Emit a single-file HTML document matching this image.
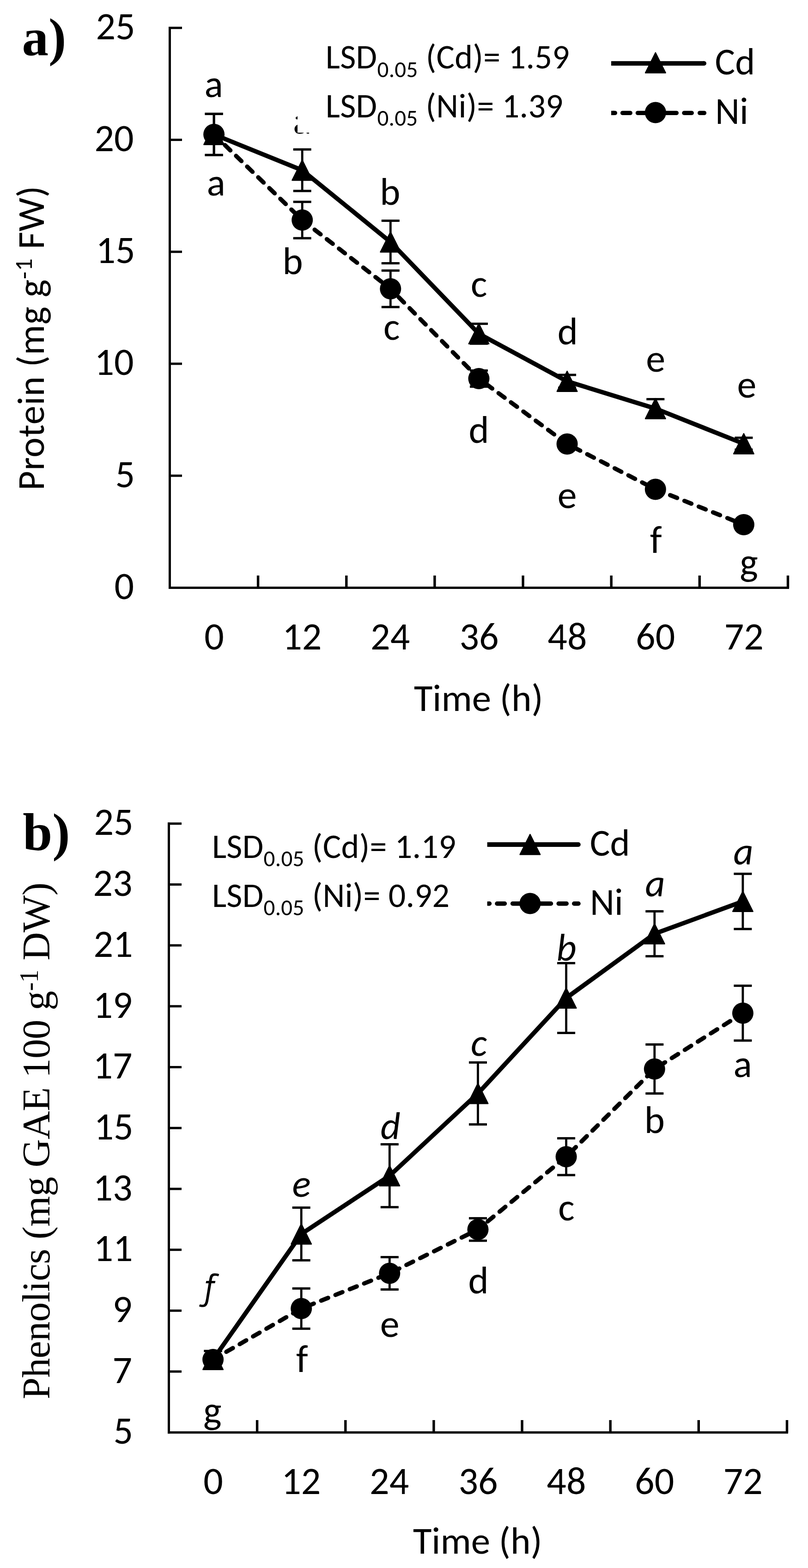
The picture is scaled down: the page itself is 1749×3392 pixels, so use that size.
<!DOCTYPE html><html><head><meta charset="utf-8"><title>Protein and phenolics</title><style>html,body{margin:0;padding:0;background:#fff}svg{display:block}</style></head><body><svg width="1749" height="3392" viewBox="0 0 1749 3392"><rect width="1749" height="3392" fill="#fff"/><g fill="#000"><rect x="365" y="58" width="5" height="1216"/><rect x="365" y="1269" width="1343" height="5"/><rect x="365" y="57.8" width="29" height="5"/><rect x="365" y="300.0" width="29" height="5"/><rect x="365" y="542.2" width="29" height="5"/><rect x="365" y="784.4" width="29" height="5"/><rect x="365" y="1026.6" width="29" height="5"/><rect x="555.9" y="1245" width="5.4" height="27"/><rect x="747.1" y="1245" width="5.4" height="27"/><rect x="938.2" y="1245" width="5.4" height="27"/><rect x="1129.4" y="1245" width="5.4" height="27"/><rect x="1320.5" y="1245" width="5.4" height="27"/><rect x="1511.6" y="1245" width="5.4" height="27"/><rect x="1702.8" y="1245" width="5.4" height="27"/></g><g fill="#000"><rect x="363" y="1779.2" width="5" height="1322"/><rect x="363" y="3096.3" width="1343" height="5"/><rect x="363" y="1779.2" width="30" height="5"/><rect x="363" y="1910.9" width="30" height="5"/><rect x="363" y="2042.6" width="30" height="5"/><rect x="363" y="2174.3" width="30" height="5"/><rect x="363" y="2306.0" width="30" height="5"/><rect x="363" y="2437.7" width="30" height="5"/><rect x="363" y="2569.4" width="30" height="5"/><rect x="363" y="2701.1" width="30" height="5"/><rect x="363" y="2832.8" width="30" height="5"/><rect x="363" y="2964.5" width="30" height="5"/><rect x="553.9" y="3072" width="5.4" height="27"/><rect x="745.1" y="3072" width="5.4" height="27"/><rect x="936.2" y="3072" width="5.4" height="27"/><rect x="1127.4" y="3072" width="5.4" height="27"/><rect x="1318.5" y="3072" width="5.4" height="27"/><rect x="1509.6" y="3072" width="5.4" height="27"/><rect x="1700.8" y="3072" width="5.4" height="27"/></g><g fill="#000"><path d="M463.1 290.8L654.2 476.0L845.3 624.8L1036.5 819.0L1227.6 960.4L1418.8 1058.4L1609.9 1135.0" fill="none" stroke="#000" stroke-width="9.3" stroke-linecap="round" stroke-linejoin="round" stroke-dasharray="16.2 17.16"/><path d="M463.1 290.9L654.2 368.2L845.3 523.5L1036.5 721.9L1227.6 824.9L1418.8 883.9L1609.9 959.9" fill="none" stroke="#000" stroke-width="9.6" stroke-linejoin="round"/><rect x="460.7" y="246.3" width="4.8" height="89.0"/><rect x="443.6" y="243.8" width="39" height="5"/><rect x="443.6" y="332.8" width="39" height="5"/><rect x="651.8" y="436.7" width="4.8" height="78.6"/><rect x="634.7" y="434.2" width="39" height="5"/><rect x="634.7" y="512.8" width="39" height="5"/><rect x="842.9" y="585.3" width="4.8" height="78.9"/><rect x="825.8" y="582.8" width="39" height="5"/><rect x="825.8" y="661.7" width="39" height="5"/><rect x="1034.1" y="801.6" width="4.8" height="34.8"/><rect x="1017.0" y="799.1" width="39" height="5"/><rect x="1017.0" y="833.9" width="39" height="5"/><rect x="1225.2" y="952.4" width="4.8" height="16.0"/><rect x="1208.1" y="949.9" width="39" height="5"/><rect x="1208.1" y="965.9" width="39" height="5"/><rect x="1416.4" y="1050.4" width="4.8" height="16.0"/><rect x="1399.3" y="1047.9" width="39" height="5"/><rect x="1399.3" y="1063.9" width="39" height="5"/><rect x="1607.5" y="1127.0" width="4.8" height="16.0"/><rect x="1590.4" y="1124.5" width="39" height="5"/><rect x="1590.4" y="1140.5" width="39" height="5"/><rect x="460.7" y="246.4" width="4.8" height="89.0"/><rect x="443.6" y="243.9" width="39" height="5"/><rect x="443.6" y="332.9" width="39" height="5"/><rect x="651.8" y="323.3" width="4.8" height="89.7"/><rect x="634.7" y="320.8" width="39" height="5"/><rect x="634.7" y="410.6" width="39" height="5"/><rect x="842.9" y="477.5" width="4.8" height="92.0"/><rect x="825.8" y="475.0" width="39" height="5"/><rect x="825.8" y="567.0" width="39" height="5"/><rect x="1034.1" y="700.4" width="4.8" height="43.0"/><rect x="1017.0" y="697.9" width="39" height="5"/><rect x="1017.0" y="740.9" width="39" height="5"/><rect x="1225.2" y="811.0" width="4.8" height="27.8"/><rect x="1208.1" y="808.5" width="39" height="5"/><rect x="1208.1" y="836.3" width="39" height="5"/><rect x="1416.4" y="863.5" width="4.8" height="40.8"/><rect x="1399.3" y="861.0" width="39" height="5"/><rect x="1399.3" y="901.8" width="39" height="5"/><rect x="1607.5" y="947.0" width="4.8" height="25.8"/><rect x="1590.4" y="944.5" width="39" height="5"/><rect x="1590.4" y="970.3" width="39" height="5"/><path d="M441.3 312.7L484.9 312.7L463.1 269.1Z" stroke="#000" stroke-width="2.4" stroke-linejoin="round"/><path d="M632.4 390.0L676.0 390.0L654.2 346.4Z" stroke="#000" stroke-width="2.4" stroke-linejoin="round"/><path d="M823.5 545.3L867.1 545.3L845.3 501.7Z" stroke="#000" stroke-width="2.4" stroke-linejoin="round"/><path d="M1014.7 743.7L1058.3 743.7L1036.5 700.1Z" stroke="#000" stroke-width="2.4" stroke-linejoin="round"/><path d="M1205.8 846.7L1249.4 846.7L1227.6 803.1Z" stroke="#000" stroke-width="2.4" stroke-linejoin="round"/><path d="M1397.0 905.7L1440.6 905.7L1418.8 862.1Z" stroke="#000" stroke-width="2.4" stroke-linejoin="round"/><path d="M1588.1 981.7L1631.7 981.7L1609.9 938.1Z" stroke="#000" stroke-width="2.4" stroke-linejoin="round"/><circle cx="463.1" cy="290.8" r="23"/><circle cx="654.2" cy="476.0" r="23"/><circle cx="845.3" cy="624.8" r="23"/><circle cx="1036.5" cy="819.0" r="23"/><circle cx="1227.6" cy="960.4" r="23"/><circle cx="1418.8" cy="1058.4" r="23"/><circle cx="1609.9" cy="1135.0" r="23"/></g><g fill="#000"><path d="M461.1 2941.0L652.2 2830.8L843.3 2754.5L1034.5 2659.7L1225.6 2502.2L1416.8 2312.5L1607.9 2191.7" fill="none" stroke="#000" stroke-width="9.3" stroke-linecap="round" stroke-linejoin="round" stroke-dasharray="16.2 17.16"/><path d="M461.1 2941.0L652.2 2669.4L843.3 2543.4L1034.5 2365.4L1225.6 2159.0L1416.8 2020.0L1607.9 1950.0" fill="none" stroke="#000" stroke-width="9.6" stroke-linejoin="round"/><rect x="458.7" y="2922.5" width="4.8" height="37.0"/><rect x="441.6" y="2920.0" width="39" height="5"/><rect x="441.6" y="2957.0" width="39" height="5"/><rect x="649.8" y="2787.3" width="4.8" height="87.0"/><rect x="632.7" y="2784.8" width="39" height="5"/><rect x="632.7" y="2871.8" width="39" height="5"/><rect x="840.9" y="2719.5" width="4.8" height="70.0"/><rect x="823.8" y="2717.0" width="39" height="5"/><rect x="823.8" y="2787.0" width="39" height="5"/><rect x="1032.1" y="2635.4" width="4.8" height="48.6"/><rect x="1015.0" y="2632.9" width="39" height="5"/><rect x="1015.0" y="2681.5" width="39" height="5"/><rect x="1223.2" y="2462.4" width="4.8" height="79.6"/><rect x="1206.1" y="2459.9" width="39" height="5"/><rect x="1206.1" y="2539.5" width="39" height="5"/><rect x="1414.4" y="2259.5" width="4.8" height="106.0"/><rect x="1397.3" y="2257.0" width="39" height="5"/><rect x="1397.3" y="2363.0" width="39" height="5"/><rect x="1605.5" y="2132.4" width="4.8" height="118.6"/><rect x="1588.4" y="2129.9" width="39" height="5"/><rect x="1588.4" y="2248.5" width="39" height="5"/><rect x="458.7" y="2922.5" width="4.8" height="37.0"/><rect x="441.6" y="2920.0" width="39" height="5"/><rect x="441.6" y="2957.0" width="39" height="5"/><rect x="649.8" y="2612.4" width="4.8" height="114.0"/><rect x="632.7" y="2609.9" width="39" height="5"/><rect x="632.7" y="2723.9" width="39" height="5"/><rect x="840.9" y="2475.4" width="4.8" height="136.0"/><rect x="823.8" y="2472.9" width="39" height="5"/><rect x="823.8" y="2608.9" width="39" height="5"/><rect x="1032.1" y="2298.4" width="4.8" height="134.0"/><rect x="1015.0" y="2295.9" width="39" height="5"/><rect x="1015.0" y="2429.9" width="39" height="5"/><rect x="1223.2" y="2083.5" width="4.8" height="151.0"/><rect x="1206.1" y="2081.0" width="39" height="5"/><rect x="1206.1" y="2232.0" width="39" height="5"/><rect x="1414.4" y="1971.4" width="4.8" height="97.2"/><rect x="1397.3" y="1968.9" width="39" height="5"/><rect x="1397.3" y="2066.1" width="39" height="5"/><rect x="1605.5" y="1890.3" width="4.8" height="119.4"/><rect x="1588.4" y="1887.8" width="39" height="5"/><rect x="1588.4" y="2007.2" width="39" height="5"/><path d="M439.3 2962.8L482.9 2962.8L461.1 2919.2Z" stroke="#000" stroke-width="2.4" stroke-linejoin="round"/><path d="M630.4 2691.2L674.0 2691.2L652.2 2647.6Z" stroke="#000" stroke-width="2.4" stroke-linejoin="round"/><path d="M821.5 2565.2L865.1 2565.2L843.3 2521.6Z" stroke="#000" stroke-width="2.4" stroke-linejoin="round"/><path d="M1012.7 2387.2L1056.3 2387.2L1034.5 2343.6Z" stroke="#000" stroke-width="2.4" stroke-linejoin="round"/><path d="M1203.8 2180.8L1247.4 2180.8L1225.6 2137.2Z" stroke="#000" stroke-width="2.4" stroke-linejoin="round"/><path d="M1395.0 2041.8L1438.6 2041.8L1416.8 1998.2Z" stroke="#000" stroke-width="2.4" stroke-linejoin="round"/><path d="M1586.1 1971.8L1629.7 1971.8L1607.9 1928.2Z" stroke="#000" stroke-width="2.4" stroke-linejoin="round"/><circle cx="461.1" cy="2941.0" r="23"/><circle cx="652.2" cy="2830.8" r="23"/><circle cx="843.3" cy="2754.5" r="23"/><circle cx="1034.5" cy="2659.7" r="23"/><circle cx="1225.6" cy="2502.2" r="23"/><circle cx="1416.8" cy="2312.5" r="23"/><circle cx="1607.9" cy="2191.7" r="23"/></g><g fill="#000"><path d="M1323 137.1H1524.1" stroke="#000" stroke-width="9.8"/><circle cx="1524.1" cy="137.1" r="4.9"/><path d="M1397.1 157.6L1440.7 157.6L1418.9 114.0Z" stroke="#000" stroke-width="2.4" stroke-linejoin="round"/><rect x="1323" y="239.70000000000002" width="13" height="9.4" rx="4.7"/><rect x="1323" y="239.70000000000002" width="6.5" height="9.4"/><rect x="1342.9" y="239.70000000000002" width="26.0" height="9.4" rx="4.7"/><rect x="1375.8" y="239.70000000000002" width="34.200000000000045" height="9.4" rx="4.7"/><rect x="1430" y="239.70000000000002" width="39" height="9.4" rx="4.7"/><rect x="1476.3" y="239.70000000000002" width="25.600000000000136" height="9.4" rx="4.7"/><rect x="1510" y="239.70000000000002" width="19.09999999999991" height="9.4" rx="4.7"/><circle cx="1418.9" cy="243.4" r="23"/><text x="1547.5" y="160.8" font-family="Carlito, 'Liberation Sans', sans-serif" font-size="82">Cd</text><text x="1548" y="267.8" font-family="Carlito, 'Liberation Sans', sans-serif" font-size="82">Ni</text></g><g fill="#000"><path d="M1054.7 1827H1251.8999999999999" stroke="#000" stroke-width="9.8"/><circle cx="1251.8999999999999" cy="1827" r="4.9"/><path d="M1125.6 1848.6L1169.2 1848.6L1147.4 1805.0Z" stroke="#000" stroke-width="2.4" stroke-linejoin="round"/><rect x="1054.7" y="1950.1" width="9.5" height="9.4" rx="4.7"/><rect x="1054.7" y="1950.1" width="4.8" height="9.4"/><rect x="1071.2" y="1950.1" width="26.0" height="9.4" rx="4.7"/><rect x="1104.9" y="1950.1" width="35.09999999999991" height="9.4" rx="4.7"/><rect x="1155" y="1950.1" width="42.299999999999955" height="9.4" rx="4.7"/><rect x="1204.5" y="1950.1" width="26.5" height="9.4" rx="4.7"/><rect x="1238" y="1950.1" width="18.799999999999955" height="9.4" rx="4.7"/><circle cx="1147.4" cy="1954.5" r="23"/><text x="1276.7" y="1850.8" font-family="Carlito, 'Liberation Sans', sans-serif" font-size="82">Cd</text><text x="1277.1" y="1978.9" font-family="Carlito, 'Liberation Sans', sans-serif" font-size="82">Ni</text></g><text x="462.7" y="210.4" text-anchor="middle" font-family="Carlito, 'Liberation Sans', sans-serif" font-size="84">a</text><text x="467.7" y="423.3" text-anchor="middle" font-family="Carlito, 'Liberation Sans', sans-serif" font-size="84">a</text><text x="633.5" y="593.4" text-anchor="middle" font-family="Carlito, 'Liberation Sans', sans-serif" font-size="84">b</text><text x="844.4" y="442.6" text-anchor="middle" font-family="Carlito, 'Liberation Sans', sans-serif" font-size="84">b</text><text x="847.8" y="734.6" text-anchor="middle" font-family="Carlito, 'Liberation Sans', sans-serif" font-size="84">c</text><text x="1036.7" y="641.7" text-anchor="middle" font-family="Carlito, 'Liberation Sans', sans-serif" font-size="84">c</text><text x="1036.5" y="957.9" text-anchor="middle" font-family="Carlito, 'Liberation Sans', sans-serif" font-size="84">d</text><text x="1228.9" y="745.1" text-anchor="middle" font-family="Carlito, 'Liberation Sans', sans-serif" font-size="84">d</text><text x="1227.7" y="1098.8" text-anchor="middle" font-family="Carlito, 'Liberation Sans', sans-serif" font-size="84">e</text><text x="1419.1" y="803.9" text-anchor="middle" font-family="Carlito, 'Liberation Sans', sans-serif" font-size="84">e</text><text x="1419.8" y="1196.0" text-anchor="middle" font-family="Carlito, 'Liberation Sans', sans-serif" font-size="84">f</text><text x="1616.3" y="859.5" text-anchor="middle" font-family="Carlito, 'Liberation Sans', sans-serif" font-size="84">e</text><text x="1620.9" y="1244.0" text-anchor="middle" font-family="Carlito, 'Liberation Sans', sans-serif" font-size="84">g</text><text x="654.1" y="288.8" text-anchor="middle" font-family="Carlito, 'Liberation Sans', sans-serif" font-size="84">a</text><text x="459.8" y="3079.0" text-anchor="middle" font-family="Carlito, 'Liberation Sans', sans-serif" font-size="84">g</text><text x="653.8" y="2968.4" text-anchor="middle" font-family="Carlito, 'Liberation Sans', sans-serif" font-size="84">f</text><text x="843.7" y="2892.3" text-anchor="middle" font-family="Carlito, 'Liberation Sans', sans-serif" font-size="84">e</text><text x="1035.5" y="2797.8" text-anchor="middle" font-family="Carlito, 'Liberation Sans', sans-serif" font-size="84">d</text><text x="1225.9" y="2640.2" text-anchor="middle" font-family="Carlito, 'Liberation Sans', sans-serif" font-size="84">c</text><text x="1416.8" y="2450.5" text-anchor="middle" font-family="Carlito, 'Liberation Sans', sans-serif" font-size="84">b</text><text x="1607.7" y="2330.2" text-anchor="middle" font-family="Carlito, 'Liberation Sans', sans-serif" font-size="84">a</text><text x="451.1" y="2810.8" text-anchor="middle" font-family="'PT Sans', Carlito, 'Liberation Sans', sans-serif" font-size="80" font-style="italic">f</text><text x="652.6" y="2589.4" text-anchor="middle" font-family="Carlito, 'Liberation Sans', sans-serif" font-size="84" font-style="italic">e</text><text x="845.0" y="2463.7" text-anchor="middle" font-family="Carlito, 'Liberation Sans', sans-serif" font-size="84" font-style="italic">d</text><text x="1036.4" y="2284.4" text-anchor="middle" font-family="Carlito, 'Liberation Sans', sans-serif" font-size="84" font-style="italic">c</text><text x="1226.0" y="2078.4" text-anchor="middle" font-family="Carlito, 'Liberation Sans', sans-serif" font-size="84" font-style="italic">b</text><text x="1418.0" y="1939.1" text-anchor="middle" font-family="Carlito, 'Liberation Sans', sans-serif" font-size="84" font-style="italic">a</text><text x="1609.1" y="1870.3" text-anchor="middle" font-family="Carlito, 'Liberation Sans', sans-serif" font-size="84" font-style="italic">a</text><text x="95.5" y="119.3" text-anchor="middle" font-family="'Liberation Serif', serif" font-size="115" font-weight="bold">a)</text><text x="100.4" y="1838.8" text-anchor="middle" font-family="'Liberation Serif', serif" font-size="115" font-weight="bold">b)</text><text x="292.7" y="84.8" text-anchor="end" font-family="Carlito, 'Liberation Sans', sans-serif" font-size="84">25</text><text x="289.7" y="327.0" text-anchor="end" font-family="Carlito, 'Liberation Sans', sans-serif" font-size="84">20</text><text x="292.7" y="569.2" text-anchor="end" font-family="Carlito, 'Liberation Sans', sans-serif" font-size="84">15</text><text x="289.7" y="811.4" text-anchor="end" font-family="Carlito, 'Liberation Sans', sans-serif" font-size="84">10</text><text x="292.1" y="1053.6" text-anchor="end" font-family="Carlito, 'Liberation Sans', sans-serif" font-size="84">5</text><text x="290.1" y="1295.8" text-anchor="end" font-family="Carlito, 'Liberation Sans', sans-serif" font-size="84">0</text><text x="288.7" y="1806.4" text-anchor="end" font-family="Carlito, 'Liberation Sans', sans-serif" font-size="84">25</text><text x="286.7" y="1938.1" text-anchor="end" font-family="Carlito, 'Liberation Sans', sans-serif" font-size="84">23</text><text x="287.7" y="2069.8" text-anchor="end" font-family="Carlito, 'Liberation Sans', sans-serif" font-size="84">21</text><text x="286.7" y="2201.5" text-anchor="end" font-family="Carlito, 'Liberation Sans', sans-serif" font-size="84">19</text><text x="286.7" y="2333.2" text-anchor="end" font-family="Carlito, 'Liberation Sans', sans-serif" font-size="84">17</text><text x="288.7" y="2464.9" text-anchor="end" font-family="Carlito, 'Liberation Sans', sans-serif" font-size="84">15</text><text x="286.7" y="2596.6" text-anchor="end" font-family="Carlito, 'Liberation Sans', sans-serif" font-size="84">13</text><text x="287.7" y="2728.3" text-anchor="end" font-family="Carlito, 'Liberation Sans', sans-serif" font-size="84">11</text><text x="286.1" y="2860.0" text-anchor="end" font-family="Carlito, 'Liberation Sans', sans-serif" font-size="84">9</text><text x="286.1" y="2991.7" text-anchor="end" font-family="Carlito, 'Liberation Sans', sans-serif" font-size="84">7</text><text x="288.1" y="3123.4" text-anchor="end" font-family="Carlito, 'Liberation Sans', sans-serif" font-size="84">5</text><text x="463.6" y="1404.5" text-anchor="middle" font-family="Carlito, 'Liberation Sans', sans-serif" font-size="84">0</text><text x="461.6" y="3231.5" text-anchor="middle" font-family="Carlito, 'Liberation Sans', sans-serif" font-size="84">0</text><text x="653.8" y="1404.5" text-anchor="middle" font-family="Carlito, 'Liberation Sans', sans-serif" font-size="84">12</text><text x="651.8" y="3231.5" text-anchor="middle" font-family="Carlito, 'Liberation Sans', sans-serif" font-size="84">12</text><text x="844.7" y="1404.5" text-anchor="middle" font-family="Carlito, 'Liberation Sans', sans-serif" font-size="84">24</text><text x="842.7" y="3231.5" text-anchor="middle" font-family="Carlito, 'Liberation Sans', sans-serif" font-size="84">24</text><text x="1037.1" y="1404.5" text-anchor="middle" font-family="Carlito, 'Liberation Sans', sans-serif" font-size="84">36</text><text x="1035.1" y="3231.5" text-anchor="middle" font-family="Carlito, 'Liberation Sans', sans-serif" font-size="84">36</text><text x="1227.9" y="1404.5" text-anchor="middle" font-family="Carlito, 'Liberation Sans', sans-serif" font-size="84">48</text><text x="1225.9" y="3231.5" text-anchor="middle" font-family="Carlito, 'Liberation Sans', sans-serif" font-size="84">48</text><text x="1418.7" y="1404.5" text-anchor="middle" font-family="Carlito, 'Liberation Sans', sans-serif" font-size="84">60</text><text x="1416.7" y="3231.5" text-anchor="middle" font-family="Carlito, 'Liberation Sans', sans-serif" font-size="84">60</text><text x="1610.3" y="1404.5" text-anchor="middle" font-family="Carlito, 'Liberation Sans', sans-serif" font-size="84">72</text><text x="1608.3" y="3231.5" text-anchor="middle" font-family="Carlito, 'Liberation Sans', sans-serif" font-size="84">72</text><text x="895.9" y="1537.7" font-family="Carlito, 'Liberation Sans', sans-serif" font-size="83" textLength="279.8">Time (h)</text><text x="893.9" y="3360.8" font-family="Carlito, 'Liberation Sans', sans-serif" font-size="83" textLength="279.8">Time (h)</text><rect x="644" y="60" width="600" height="227" fill="#fff"/><text x="704.8" y="148" font-family="Carlito, 'Liberation Sans', sans-serif" font-size="74" textLength="528">LSD<tspan font-size="49" dy="18.5">0.05</tspan><tspan dy="-18.5"> (Cd)= 1.59</tspan></text><text x="704.8" y="253.8" font-family="Carlito, 'Liberation Sans', sans-serif" font-size="74" textLength="514">LSD<tspan font-size="49" dy="18.5">0.05</tspan><tspan dy="-18.5"> (Ni)= 1.39</tspan></text><text x="458.9" y="1855.7" font-family="Carlito, 'Liberation Sans', sans-serif" font-size="74" textLength="528">LSD<tspan font-size="49" dy="18.5">0.05</tspan><tspan dy="-18.5"> (Cd)= 1.19</tspan></text><text x="458.9" y="1961.6" font-family="Carlito, 'Liberation Sans', sans-serif" font-size="74" textLength="514">LSD<tspan font-size="49" dy="18.5">0.05</tspan><tspan dy="-18.5"> (Ni)= 0.92</tspan></text><text transform="translate(94.9 1061) rotate(-90)" font-family="Carlito, 'Liberation Sans', sans-serif" font-size="82" textLength="659">Protein (mg g<tspan font-size="54" dy="-25.5">-1</tspan><tspan dy="25.5"> FW)</tspan></text><text transform="translate(107 3027) rotate(-90)" font-family="'Liberation Serif', serif" font-size="85" textLength="1118">Phenolics (mg GAE 100 g<tspan font-size="56" dy="-25">-1</tspan><tspan dy="25"> DW)</tspan></text></svg></body></html>
